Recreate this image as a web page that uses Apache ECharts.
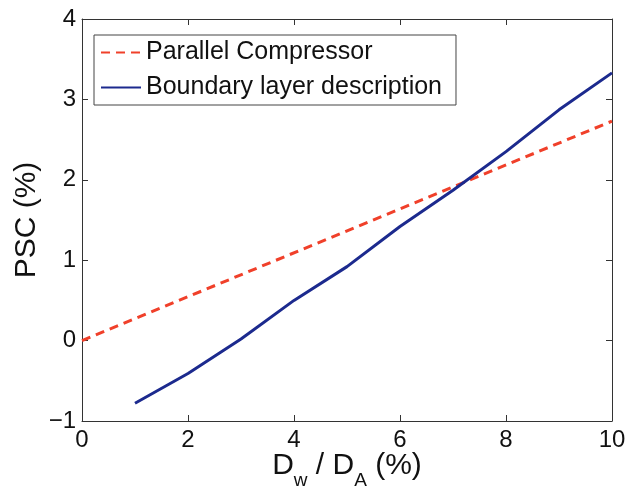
<!DOCTYPE html>
<html>
<head>
<meta charset="utf-8">
<script src="https://cdn.jsdelivr.net/npm/echarts@6/dist/echarts.min.js"></script>
<style>html,body{margin:0;padding:0;background:#fff;}#c{width:629px;height:489px;}</style>
</head>
<body>
<div id="c"></div>
<script>
const parallelX = [0, 10];
const parallelY = [0, 2.73];
const boundaryX = [1, 2, 3, 4, 5, 6, 7, 8, 9, 10];
const boundaryY = [-0.78, -0.41, 0.02, 0.50, 0.92, 1.42, 1.87, 2.35, 2.87, 3.33];
const xTicks = [0, 2, 4, 6, 8, 10];
const yTicks = [-1, 0, 1, 2, 3, 4];
const seriesNames = ['Parallel Compressor', 'Boundary layer description'];

const font = 'Liberation Sans, Arial, Helvetica, sans-serif';
const axisCol = '#333';
const chart = echarts.init(document.getElementById('c'), null, {renderer: 'canvas'});
const pair = (xs, ys) => xs.map((x, i) => [x, ys[i]]);
const fmt = v => String(v).replace('-', '\u2212');

const baseX = {
  type: 'value', min: xTicks[0], max: xTicks[xTicks.length - 1], interval: 2,
  axisLine: {show: true, onZero: false, lineStyle: {color: axisCol, width: 1}},
  axisTick: {show: true, inside: true, length: 6, lineStyle: {color: axisCol}},
  splitLine: {show: false}
};
const baseY = {
  type: 'value', min: yTicks[0], max: yTicks[yTicks.length - 1], interval: 1,
  axisLine: {show: true, onZero: false, lineStyle: {color: axisCol, width: 1}},
  axisTick: {show: true, inside: true, length: 6, lineStyle: {color: axisCol}},
  splitLine: {show: false}
};

chart.setOption({
  backgroundColor: '#fff',
  animation: false,
  grid: {left: 82, right: 17, top: 19, bottom: 68, containLabel: false, outerBoundsMode: 'none'},
  legend: {
    show: true,
    left: 94, top: 35,
    orient: 'vertical',
    backgroundColor: '#fff',
    borderColor: '#444', borderWidth: 1,
    padding: [5, 14, 5, 6],
    itemGap: 10,
    itemWidth: 40, itemHeight: 14,
    itemStyle: {opacity: 0},
    textStyle: {fontFamily: font, fontSize: 25, color: '#111'},
    data: seriesNames
  },
  xAxis: [
    Object.assign({}, baseX, {
      position: 'bottom',
      axisLabel: {show: true, fontFamily: font, fontSize: 24, color: '#111', margin: 7, formatter: fmt},
      name: 'D{sub|w} / D{sub|A} (%)',
      nameLocation: 'middle', nameGap: 20, nameMoveOverlap: false,
      nameTextStyle: {fontFamily: font, fontSize: 30, color: '#111', verticalAlign: 'top',
        rich: {sub: {fontFamily: font, fontSize: 19, color: '#111', verticalAlign: 'bottom', padding: [30, 0, 0, 0]}}}
    }),
    Object.assign({}, baseX, {position: 'top', axisLabel: {show: false}})
  ],
  yAxis: [
    Object.assign({}, baseY, {
      position: 'left',
      axisLabel: {show: true, fontFamily: font, fontSize: 24, color: '#111', margin: 6, formatter: fmt},
      name: 'PSC (%)', nameLocation: 'middle', nameGap: 40, nameRotate: 90, nameMoveOverlap: false,
      nameTextStyle: {fontFamily: font, fontSize: 30, color: '#111'}
    }),
    Object.assign({}, baseY, {position: 'right', axisLabel: {show: false}})
  ],
  series: [
    {
      name: seriesNames[0], type: 'line', xAxisIndex: 0, yAxisIndex: 0,
      data: pair(parallelX, parallelY),
      symbol: 'none', showSymbol: false,
      lineStyle: {color: '#f0402a', width: 3, type: [9, 6]},
      itemStyle: {color: '#f0402a'}
    },
    {
      name: seriesNames[1], type: 'line', xAxisIndex: 0, yAxisIndex: 0,
      data: pair(boundaryX, boundaryY),
      symbol: 'none', showSymbol: false,
      lineStyle: {color: '#1c2a8e', width: 3},
      itemStyle: {color: '#1c2a8e'}
    }
  ]
});
</script>
</body>
</html>
